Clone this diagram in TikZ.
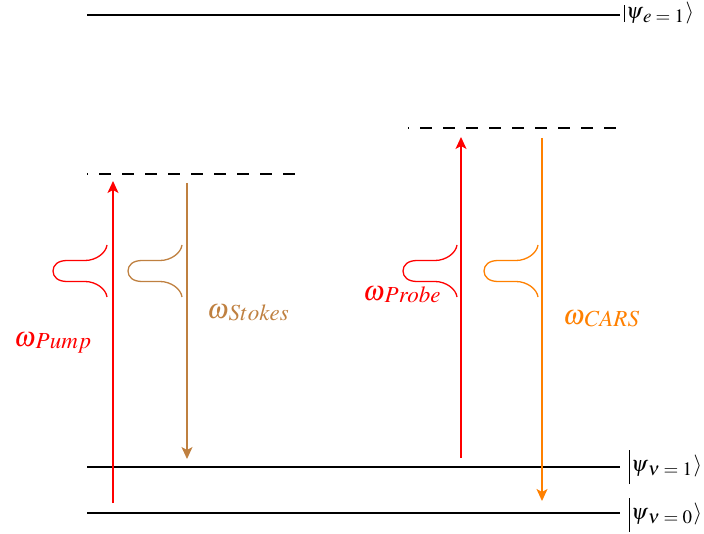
\documentclass[tikz,border=0pt]{standalone}
\usepackage{mathptmx}
\usetikzlibrary{arrows.meta}
\newcommand{\omlab}[1]{\fontsize{28}{32}\selectfont$\omega$\raisebox{-2pt}{\fontsize{23}{26}\selectfont$#1$}}
\newcommand{\ketlab}[3]{\fontsize{22}{24}\selectfont\vrule height #1 depth #2 width 0.9pt\kern1pt$\psi$\raisebox{-4pt}{\fontsize{19}{20}\selectfont$#3$}\kern1.5pt$\rangle$}
\begin{document}
\begin{tikzpicture}[x=1pt,y=-1pt,
  level/.style={line width=1.3pt,black},
  virt/.style={line width=1.3pt,black,dash pattern=on 12pt off 11pt,dash phase=11pt},
  beam/.style={line width=1.3pt,-{Stealth[length=12pt,width=11pt,inset=3pt]}},
  pulse/.style={line width=1.3pt},
  lab/.style={inner sep=0pt,anchor=base west},
  ket/.style={inner sep=0pt,anchor=base west},
  gpulse/.pic={\draw[pulse] (0,-26) .. controls (-1,-18) and (-11,-10.5) .. (-22,-10.5)
     -- (-40,-10.5) .. controls (-49,-10.5) and (-54,-6) .. (-54,0)
     .. controls (-54,6) and (-49,10.5) .. (-40,10.5) -- (-22,10.5)
     .. controls (-11,10.5) and (-1,18) .. (0,26);}]
\useasboundingbox (0,0) rectangle (704,534);
% levels
\coordinate (e1a) at (87,15);  \coordinate (e1b) at (620,15);
\coordinate (v1a) at (87,467); \coordinate (v1b) at (620,467);
\coordinate (v0a) at (87,513); \coordinate (v0b) at (620,513);
\coordinate (s1a) at (87,174); \coordinate (s1b) at (302,174);
\coordinate (s2a) at (408,128); \coordinate (s2b) at (623,128);
\draw[level] (e1a) -- (e1b);
\draw[level] (v1a) -- (v1b);
\draw[level] (v0a) -- (v0b);
\draw[virt] (s1a) -- (s1b);
\draw[virt] (s2a) -- (s2b);
\node[ket] (ke) at (624,19) {\ketlab{14pt}{3pt}{e=1}};
\node[ket] (k1) at (629,471) {\ketlab{21pt}{13pt}{\nu=1}};
\node[ket] (k0) at (629,519) {\ketlab{21pt}{13pt}{\nu=0}};
% arrows
\coordinate (p1) at (113,503); \coordinate (p2) at (113,181);
\coordinate (st1) at (187,183); \coordinate (st2) at (187,459);
\coordinate (pr1) at (461,458); \coordinate (pr2) at (461,137);
\coordinate (c1) at (542,138); \coordinate (c2) at (542,501);
\draw[beam,red] (p1) -- (p2);
\draw[beam,brown] (st1) -- (st2);
\draw[beam,red] (pr1) -- (pr2);
\draw[beam,orange] (c1) -- (c2);
% pulses
\pic[red] at (107,271) {gpulse};
\pic[brown] at (182,271) {gpulse};
\pic[red] at (457,271) {gpulse};
\pic[orange] at (538,271) {gpulse};
% labels
\node[lab,red] (lp) at (14,347) {\omlab{Pump}};
\node[lab,brown] (ls) at (207,319) {\omlab{Stokes}};
\node[lab,red] (lpr) at (363,301) {\omlab{Probe}};
\node[lab,orange] (lc) at (563,325) {\omlab{CARS}};
\end{tikzpicture}
\end{document}
